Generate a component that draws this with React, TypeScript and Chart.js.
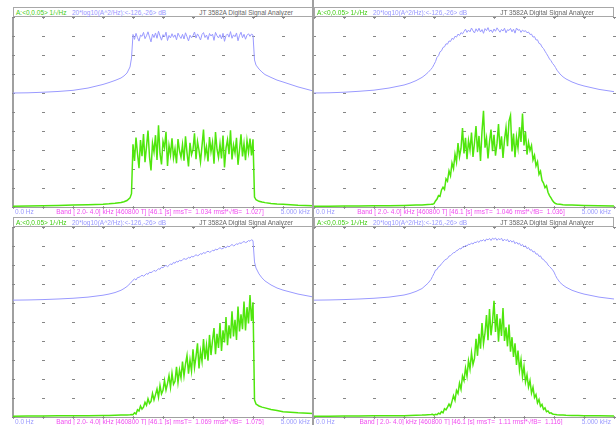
import React, { useEffect, useRef } from "react";
import { Chart, registerables } from "chart.js";
Chart.register(...registerables);

// ---------- data ----------
const freqHz = [
  0, 250, 500, 750, 1000, 1250, 1500, 1600, 1700, 1800, 1850, 1900, 1950, 1975,
  2000, 2025, 2050, 2075, 2100, 2125, 2150, 2175, 2200, 2225, 2250, 2275, 2300, 2325, 2350, 2375,
  2400, 2425, 2450, 2475, 2500, 2525, 2550, 2575, 2600, 2625, 2650, 2675, 2700, 2725, 2750, 2775,
  2800, 2825, 2850, 2875, 2900, 2925, 2950, 2975, 3000, 3025, 3050, 3075, 3100, 3125, 3150, 3175,
  3200, 3225, 3250, 3275, 3300, 3325, 3350, 3375, 3400, 3425, 3450, 3475, 3500, 3525, 3550, 3575,
  3600, 3625, 3650, 3675, 3700, 3725, 3750, 3775, 3800, 3825, 3850, 3875, 3900, 3925, 3950, 3975, 4000,
  4025, 4050, 4100, 4150, 4200, 4300, 4400, 4500, 4750, 5000,
];
const freqTicks = [0, 500, 1000, 1500, 2000, 2500, 3000, 3500, 4000, 4500, 5000];
const dbTicks = [-126, -116, -106, -96, -86, -76, -66, -56, -46, -36, -26];

// Panel 1 (rectangular band)
const p1Db = [
  -66, -65.9, -65.6, -65.2, -64.6, -63.4, -61.5, -60.5, -59.4, -58.1, -57, -55.5, -52.3, -47.6,
  -35.2, -37.8, -34.6, -36.9, -38.7, -35.5, -36.2, -34.1, -37.4, -35.9,
  -33.8, -36.6, -39.1, -35.0, -36.8, -34.4, -37.2, -33.5, -36.0, -38.2,
  -35.3, -36.5, -34.0, -38.4, -35.7, -37.0, -34.8, -36.7, -35.4, -38.0,
  -34.5, -36.1, -37.3, -35.1, -37.6, -34.3, -36.4, -38.6, -35.6, -36.9,
  -35.8, -33.9, -37.1, -34.9, -36.3, -38.1, -35.2, -34.2, -36.8, -35.5,
  -37.9, -34.7, -36.0, -35.0, -38.3, -34.1, -35.9, -37.0, -35.3, -37.5,
  -34.6, -38.8, -35.8, -34.9, -36.6, -33.7, -37.2, -35.4, -36.4, -34.4,
  -38.5, -35.7, -34.0, -36.9, -35.1, -37.7, -35.6, -34.8, -36.2, -35.0,
  -35.5,
  -48.6, -51.3, -53.4, -55, -56.3, -57.8, -59.2, -60.2, -62.8, -64.9,
];
const p1Amp = [
  0.2, 0.25, 0.3, 0.4, 0.5, 0.6, 0.75, 0.85, 1.0, 1.2, 1.4, 1.7, 2.4, 3.5,
  16.5, 12.1, 18.3, 14.0, 10.2, 17.6, 13.4, 19.2, 11.8, 15.9,
  20.1, 13.2, 9.6, 16.8, 14.5, 18.9, 12.4, 21.5, 14.1, 11.2,
  17.3, 15.6, 19.8, 10.8, 16.2, 13.7, 18.1, 12.9, 15.3, 11.5,
  17.9, 14.8, 13.1, 16.4, 12.2, 18.6, 14.3, 10.7, 16.9, 13.8,
  15.1, 19.4, 12.6, 17.2, 14.9, 11.9, 16.1, 20.4, 13.5, 15.8,
  12.0, 18.4, 14.6, 17.0, 11.4, 19.7, 15.2, 13.0, 16.6, 12.8,
  18.8, 10.4, 15.5, 17.7, 13.9, 20.2, 12.5, 16.3, 14.2, 18.2,
  11.1, 15.0, 19.1, 13.3, 16.7, 12.3, 17.5, 14.4, 18.0, 13.6,
  17.8,
  2.6, 1.9, 1.5, 1.3, 1.15, 0.95, 0.8, 0.7, 0.45, 0.3,
];

// Panel 2 (tapered band)
const p2Db = [
  -66, -65.9, -65.6, -65.1, -64.5, -63.4, -61.8, -60.8, -59.5, -57.8, -56.6, -55.2, -53.5, -52.5,
  -51.0, -49.5, -47.2, -46.4, -44.3, -43.8, -42.0, -41.7, -40.1, -40.3,
  -38.6, -38.9, -37.2, -37.8, -36.1, -36.6, -35.0, -35.7, -34.2, -34.9, -33.6,
  -32.4, -34.1, -32.9, -33.8, -31.8, -33.3, -34.4, -32.2, -33.6, -31.9,
  -33.9, -32.6, -34.6, -32.1, -33.2, -31.6, -33.7, -32.8, -34.2, -32.3,
  -33.5, -31.7, -32.9, -34.0, -32.5, -33.4, -31.9, -34.3, -32.7, -33.1,
  -32.0, -33.8, -32.4, -34.5, -31.8, -33.0, -32.6, -34.1, -32.9, -33.6,
  -33.2, -34.3, -33.9, -35.2, -35.0, -36.6, -36.3, -38.1, -38.0, -39.9,
  -40.2, -41.8, -42.6, -44.0, -45.3, -46.6, -48.1, -49.0, -50.4, -51.3,
  -52.6, -54, -56, -57.5, -58.6, -60.2, -61.4, -62.3, -64.1, -65.3,
];
const p2Amp = [
  0.2, 0.2, 0.25, 0.25, 0.3, 0.35, 0.4, 0.45, 0.5, 0.55, 0.6, 0.65, 0.7, 0.75,
  0.9, 1.6, 2.1, 3.0, 2.8, 4.5, 5.2, 4.6, 7.4, 6.8,
  9.5, 8.2, 11.6, 10.1, 13.9, 11.8, 16.8, 13.2, 15.4,
  20.8, 14.1, 18.2, 12.6, 17.5, 15.0, 19.6, 13.2, 16.9, 21.3,
  14.4, 18.7, 12.1, 19.9, 25.3, 15.6, 18.1, 12.8, 17.2, 20.4,
  14.7, 19.0, 13.5, 16.8, 21.8, 15.2, 18.6, 12.9, 17.7, 20.9,
  16.0, 22.6, 24.1, 14.6, 19.3, 13.1, 18.4, 15.5, 21.0, 17.1,
  24.6, 16.2, 19.8, 13.8, 17.0,
  14.9, 16.2, 12.4, 13.6, 10.8, 11.9, 8.6, 9.4, 7.0, 6.3,
  5.1, 5.6, 3.9, 3.0, 2.4, 1.7, 1.2,
  0.9, 0.8, 0.7, 0.6, 0.55, 0.5, 0.45, 0.4, 0.3, 0.25,
];

// Panel 3 (rising ramp)
const p3Db = [
  -64.5, -64.4, -64.2, -63.9, -63.5, -62.9, -61.9, -61.3, -60.5, -59.3, -58.4, -57.3, -55.8, -54.9,
  -54.0, -53.3, -53.9, -52.6, -52.5, -52.0, -51.4, -51.9, -51.3, -50.5,
  -50.9, -49.8, -50.0, -49.6, -48.8, -49.3, -48.8, -47.9, -48.3, -47.1,
  -47.5, -46.6, -46.2, -46.9, -46.2, -45.4, -45.8, -44.6, -45.1, -44.0,
  -44.5, -43.5, -43.9, -43.3, -42.6, -43.0, -42.8, -41.9, -42.4, -41.4,
  -41.8, -41.2, -40.6, -41.1, -40.8, -40.0, -40.4, -39.4, -39.9, -39.2,
  -38.7, -39.3, -39.0, -38.2, -38.6, -37.6, -38.1, -37.4, -36.9, -37.5,
  -37.3, -36.6, -37.0, -36.0, -36.5, -35.8, -35.2, -35.9, -35.6, -34.8,
  -35.2, -34.3, -34.7, -34.1, -33.6, -34.2, -33.9, -33.1, -33.5, -32.7,
  -33.2,
  -44.4, -47.6, -50.7, -52.8, -54.4, -56.5, -58.1, -59.2, -61.3, -62.8,
];
const p3Amp = [
  0.2, 0.25, 0.25, 0.3, 0.3, 0.35, 0.4, 0.4, 0.45, 0.5, 0.5, 0.55, 0.6, 0.65,
  0.6, 1.1, 0.8, 1.9, 1.6, 2.9, 2.1, 2.6, 3.9, 3.1,
  4.8, 3.6, 4.1, 6.2, 4.5, 5.9, 7.4, 5.2, 8.3, 6.1,
  7.0, 9.6, 7.1, 8.8, 10.9, 7.8, 11.5, 8.6, 9.4, 13.2,
  9.1, 12.4, 10.3, 14.6, 10.8, 13.9, 16.2, 11.4, 15.0, 12.1,
  17.8, 13.0, 15.9, 19.4, 12.8, 17.3, 14.6, 20.5, 15.2, 18.9,
  14.8, 21.6, 16.3, 20.1, 23.4, 16.5, 21.9, 18.2, 24.7, 17.4,
  22.8, 19.6, 26.3, 18.9, 24.1, 20.7, 27.8, 21.2, 25.6, 20.3,
  29.1, 22.5, 27.0, 23.1, 30.4, 22.8, 28.9, 24.6, 32.1, 25.3,
  30.2,
  4.5, 3.4, 2.9, 2.6, 2.4, 2.0, 1.7, 1.4, 1.1, 0.9,
];

// Panel 4 (bell)
const p4Db = [
  -64.5, -64.4, -64.2, -63.9, -63.5, -62.9, -61.8, -61, -59.9, -58.4, -57.0, -55.6, -53.6, -52.0,
  -50.5, -48.7, -48.4, -46.9, -46.5, -45.3, -44.6, -43.5, -43.0, -42.6,
  -41.3, -41.1, -40.3, -39.5, -39.4, -38.4, -38.2, -37.3, -37.6, -36.5,
  -36.6, -35.7, -36.0, -35.0, -35.3, -34.4, -35.0, -34.0, -34.2, -33.5,
  -34.1, -33.0, -33.4, -32.6, -33.5, -32.3, -32.8, -32.0, -33.1, -31.9,
  -32.5, -31.8, -33.0, -32.1, -32.7, -31.9, -33.4, -32.4, -33.2, -32.5,
  -33.9, -33.0, -34.0, -33.2, -34.8, -33.9, -35.1, -34.5, -35.9, -35.2,
  -36.5, -35.9, -37.4, -36.8, -38.2, -37.9, -39.2, -38.8, -40.3, -40.1,
  -41.5, -41.2, -42.8, -43.0, -44.2, -44.6, -46.0, -46.8, -47.6, -48.5,
  -49.7,
  -51.5, -53, -55.2, -56.6, -57.7, -59.3, -60.4, -61.3, -62.9, -63.9,
];
const p4Amp = [
  0.2, 0.2, 0.25, 0.25, 0.3, 0.3, 0.35, 0.4, 0.45, 0.5, 0.55, 0.6, 0.65, 0.7,
  0.5, 0.7, 0.6, 1.0, 0.8, 1.4, 1.1, 2.2, 1.9, 2.6,
  3.4, 2.7, 4.1, 5.6, 4.4, 7.0, 6.2, 8.9, 7.3, 10.8,
  9.6, 12.9, 10.7, 14.8, 12.6, 16.9, 13.8, 15.4, 20.6, 16.1,
  21.9, 18.0, 24.7, 19.3, 22.1, 26.8, 20.2, 28.4, 21.5, 25.0,
  30.6, 22.4, 27.1, 19.8, 25.9, 21.3, 28.7, 20.0, 23.6, 18.6,
  24.3, 17.2, 21.0, 15.8, 19.4, 13.7, 17.5, 12.4, 15.1, 10.6,
  13.3, 9.2, 11.1, 7.9, 9.6, 6.3, 7.8, 5.1, 5.9, 3.7,
  4.6, 2.8, 3.3, 2.0, 2.4, 1.4, 1.6, 1.0, 1.1, 0.8,
  0.7,
  0.65, 0.6, 0.55, 0.5, 0.45, 0.4, 0.4, 0.35, 0.3, 0.25,
];

const rmsT = ["1.034", "1.046", "1.069", "1.11"];
const rmsF = ["1.027", "1.036", "1.075", "1.116"];
const dbSeries = [p1Db, p2Db, p3Db, p4Db];
const ampSeries = [p1Amp, p2Amp, p3Amp, p4Amp];

// ---------- layout ----------
const origins = [
  { ox: 0, oy: 0 },
  { ox: 301, oy: 0 },
  { ox: 0, oy: 210 },
  { ox: 301, oy: 210 },
];

const BLUE = "#9a9aff";
const GREEN = "#4fe60c";
const FONT = '6.5px "Liberation Sans", Arial, sans-serif';

const framePlugin = {
  id: "frame",
  beforeDatasetsDraw(chart: any, _args: any, opts: any) {
    const { ctx, chartArea: a, scales } = chart;
    const sx = scales.x;
    const sy = scales.yDb;
    ctx.save();
    ctx.fillStyle = "#a0a0a0";
    ctx.fillRect(a.left, Math.round(a.bottom), a.right - a.left, 1);
    if (opts.leftAxis) ctx.fillRect(Math.round(a.left) - 1, a.top, 2, a.bottom - a.top);
    ctx.fillStyle = "#9a9a9a";
    for (const f of freqTicks) {
      const px = Math.round(sx.getPixelForValue(f));
      ctx.fillRect(px, Math.round(a.top), 1, 2);
      ctx.fillRect(px, Math.round(a.bottom) - 1, 1, 3);
    }
    ctx.fillStyle = "#868686";
    for (const f of freqTicks) {
      for (const d of dbTicks) {
        const px = Math.round(sx.getPixelForValue(f));
        const py = Math.round(sy.getPixelForValue(d));
        ctx.fillRect(px - 1, py, 3, 1);
      }
    }
    ctx.restore();
  },
};

function Panel({ idx }: { idx: number }) {
  const ref = useRef<HTMLCanvasElement | null>(null);
  const { ox, oy } = origins[idx];
  useEffect(() => {
    if (!ref.current) return;
    const green = freqHz.map((f, i) => ({ x: f, y: ampSeries[idx][i] }));
    const blue = freqHz.map((f, i) => ({ x: f, y: dbSeries[idx][i] }));
    const chart = new Chart(ref.current, {
      type: "line",
      data: {
        datasets: [
          { label: "A", data: green, yAxisID: "yLin", borderColor: GREEN, borderWidth: 1.5, pointRadius: 0, tension: 0 },
          { label: "dB", data: blue, yAxisID: "yDb", borderColor: BLUE, borderWidth: 1, pointRadius: 0, tension: 0 },
        ],
      },
      options: {
        animation: false,
        responsive: false,
        devicePixelRatio: 1,
        layout: { padding: { left: 3, right: 3, top: 3, bottom: 3 } },
        plugins: { legend: { display: false }, tooltip: { enabled: false }, frame: { leftAxis: idx % 2 === 0 } } as any,
        scales: {
          x: { type: "linear", min: 0, max: 5000, display: false },
          yDb: { type: "linear", min: -126, max: -26, display: false },
          yLin: { type: "linear", min: 0, max: 50, display: false },
        },
      },
      plugins: [framePlugin],
    });
    return () => chart.destroy();
  }, [idx]);

  const txt: React.CSSProperties = { position: "absolute", font: FONT, lineHeight: "7px", whiteSpace: "pre" };
  return (
    <>
      <div
        style={{
          position: "absolute",
          left: ox + 13,
          top: oy + 7,
          width: 300,
          height: 10,
          boxSizing: "border-box",
          border: "1px solid #a8a8a8",
        }}
      >
        <span style={{ ...txt, left: 2, top: 0.5, color: "#3fcc10" }}>A:&lt;0,0.05&gt; 1/√Hz</span>
        <span style={{ ...txt, left: 58, top: 0.5, color: "#9898ff" }}>20*log10(A^2/Hz):&lt;-126,-26&gt; dB</span>
        <span style={{ ...txt, right: 19, top: 0.5, color: "#666" }}>JT 3582A Digital Signal Analyzer</span>
      </div>
      <canvas
        ref={ref}
        width={306}
        height={196}
        style={{ position: "absolute", left: ox + 10, top: oy + 14, width: 306, height: 196 }}
      />
      <span style={{ ...txt, left: ox + 15, top: oy + 208, color: "#9a9aff" }}>0.0 Hz</span>
      <span style={{ ...txt, left: ox + 10, width: 300, textAlign: "center", top: oy + 208, color: "#f04cf0" }}>
        {`Band [ 2.0- 4.0] kHz [460800 T] [46.1 [s] rmsT=  ${rmsT[idx]} rmsf*√fB=  ${rmsF[idx]}]`}
      </span>
      <span style={{ ...txt, right: 616 - (ox + 310), top: oy + 208, color: "#9a9aff" }}>5.000 kHz</span>
    </>
  );
}

export default function App() {
  return (
    <div
      style={{
        position: "absolute",
        left: 0,
        top: 0,
        width: 616,
        height: 425,
        overflow: "hidden",
        background: "#fff",
      }}
    >
      {[0, 1, 2, 3].map((i) => (
        <Panel key={i} idx={i} />
      ))}
      <div style={{ position: "absolute", left: 312, top: 0, width: 2, height: 425, background: "#a0a0a0" }} />
    </div>
  );
}
